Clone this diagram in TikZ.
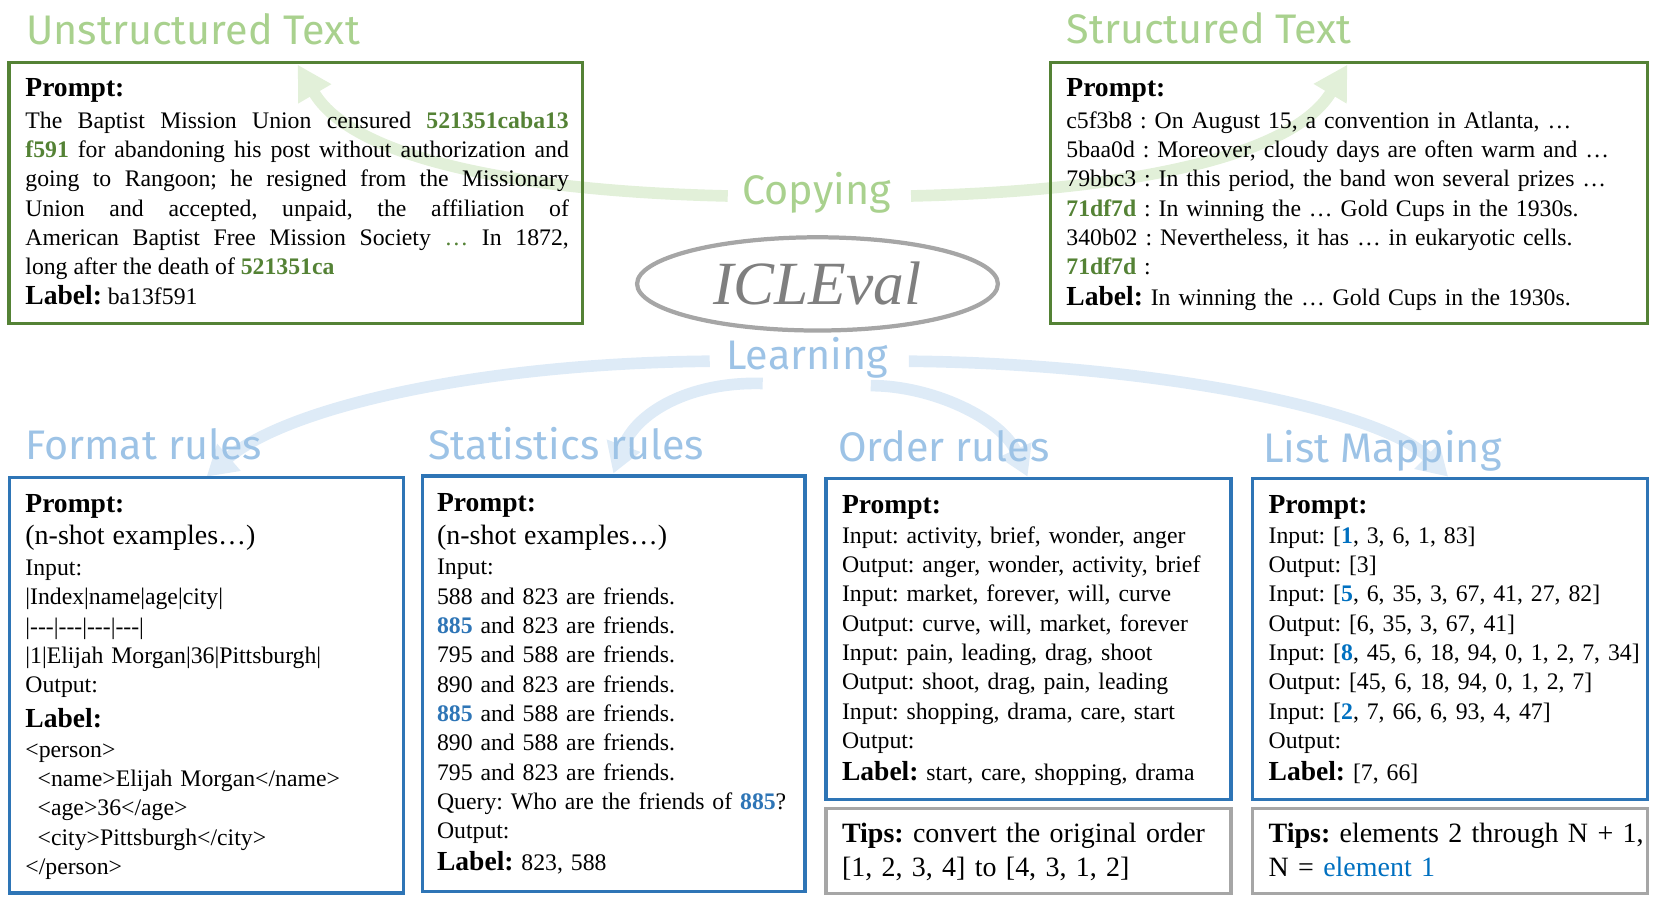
\documentclass[tikz,border=0pt]{standalone}
\usepackage{fontspec}
\setmainfont{Liberation Serif}
\newfontfamily\ttlfont{Fira Sans}
\usetikzlibrary{arrows.meta,shapes.geometric,fit}
\definecolor{gdark}{HTML}{548235}
\definecolor{glight}{HTML}{A9D18E}
\definecolor{gbandc}{HTML}{E2F0D9}
\definecolor{bdark}{HTML}{2E75B6}
\definecolor{blight}{HTML}{9DC3E6}
\definecolor{bbandc}{HTML}{DEEBF7}
\definecolor{tgray}{HTML}{A6A6A6}
\definecolor{iclgray}{HTML}{7F7F7F}
\definecolor{ebl}{HTML}{0070C0}
\newcommand\hdr[1]{{\fontsize{13}{13.85}\selectfont\bfseries #1}}
\newcommand\gid[1]{\textbf{\textcolor{gdark}{#1}}}
\newcommand\bid[1]{\textbf{\textcolor{bdark}{#1}}}
\newcommand\lid[1]{\textbf{\textcolor{ebl}{#1}}}
\newcommand\nshot{{\fontsize{13.2}{13.85}\selectfont (n-shot examples…)}}
\frenchspacing
\begin{document}
\begin{tikzpicture}[x=0.5pt,y=-0.5pt,
 gbox/.style={draw=gdark,line width=1.5pt,inner sep=0pt},
 bbox/.style={draw=bdark,line width=1.5pt,inner sep=0pt},
 tbox/.style={draw=tgray,line width=1.5pt,inner sep=0pt},
 body/.style={anchor=base west,inner sep=0pt,align=left,font=\frenchspacing\fontsize{11.2}{13.85}\selectfont},
 tipsfont/.style={font=\frenchspacing\fontsize{13.2}{16}\selectfont},
 ttl/.style={anchor=base west,inner sep=0pt,font=\ttlfont\fontsize{19.5}{20}\selectfont},
 gttl/.style={ttl,text=glight},
 bttl/.style={ttl,text=blight},
 gflow/.style={draw=gbandc,line width=5.5pt,-{Triangle[width=17pt,length=16pt]}},
 bflow/.style={draw=bbandc,line width=5.5pt,-{Triangle[width=16pt,length=14pt]}},
]
\path[use as bounding box] (0,0) rectangle (1568,851.5);

% flow coordinates
\coordinate (g1s) at (687,185);
\coordinate (g1e) at (281,61);
\coordinate (g2s) at (860,185);
\coordinate (g2e) at (1272,61);
\coordinate (b1s) at (670,341);
\coordinate (b1e) at (195,450);
\coordinate (b2s) at (720,362);
\coordinate (b2e) at (579,447);
\coordinate (b3s) at (822,364);
\coordinate (b3e) at (970,450);
\coordinate (b4s) at (858,341);
\coordinate (b4e) at (1367,450);

% flows
\draw[gflow] (g1s) .. controls (470,180) and (330,145) .. (g1e);
\draw[gflow] (g2s) .. controls (1077,180) and (1222,145) .. (g2e);
\draw[bflow] (b1s) .. controls (450,343) and (270,385) .. (b1e);
\draw[bflow] (b2s) .. controls (650,360) and (600,390) .. (b2e);
\draw[bflow] (b3s) .. controls (880,364) and (945,395) .. (b3e);
\draw[bflow] (b4s) .. controls (1080,343) and (1300,385) .. (b4e);

% boxes
\node[gbox,fit={(8.5,59) (550,305.5)}] (ut) {};
\node[gbox,fit={(992,59) (1555,305.5)}] (st) {};
\node[bbox,fit={(8.8,450.5) (380.7,843)}] (fmt) {};
\node[bbox,fit={(398.7,449.3) (760,841.7)}] (stat) {};
\node[bbox,fit={(779.7,451.8) (1162,754.5)}] (ord) {};
\node[bbox,fit={(1182.4,451.8) (1555.6,754.5)}] (lst) {};
\node[tbox,fit={(779.7,763) (1162,843.3)}] (tipo) {};
\node[tbox,fit={(1182.4,763) (1555.6,843.3)}] (tipl) {};

% centre ellipse
\node[ellipse,draw=tgray,line width=2pt,minimum width=170.3pt,minimum height=44pt,inner sep=0pt,
      text=iclgray,font=\fontsize{29}{30}\selectfont\itshape] (icl) at (771.7,268) {ICLEval};

% titles
\node[gttl] (tut) at (24.5,42) {Unstructured Text};
\node[gttl] (tst) at (1006.5,41) {Structured Text};
\node[gttl,anchor=base] (tcop) at (771,193) {Copying};
\node[bttl,anchor=base] (tlrn) at (762,349) {Learning};
\node[bttl] (tfmt) at (23.6,434) {Format rules};
\node[bttl] (tstat) at (404,434) {Statistics rules};
\node[bttl] (tord) at (791,436) {Order rules};
\node[bttl] (tlst) at (1192,437) {List Mapping};

% texts
\node[body,text width=256.5pt,align=justify] (uttx) at (23.6,91.3) {\hdr{Prompt:}\\[1pt]
The Baptist Mission Union censured \gid{521351caba13}\linebreak
\gid{f591} for abandoning his post without authorization and\linebreak
going to Rangoon; he resigned from the Missionary\linebreak
Union and accepted, unpaid, the affiliation of\linebreak
American Baptist Free Mission Society \textcolor{gdark}{…} In 1872,\linebreak
long after the death of \gid{521351ca}\\[0.3pt]
\hdr{Label:} ba13f591};

\node[body,text width=272pt] (sttx) at (1006.3,91.3) {\hdr{Prompt:}\\[1pt]
c5f3b8 : On August 15, a convention in Atlanta, …\\
5baa0d : Moreover, cloudy days are often warm and …\\
79bbc3 : In this period, the band won several prizes …\\
\gid{71df7d} : In winning the … Gold Cups in the 1930s.\\
340b02 : Nevertheless, it has … in eukaryotic cells.\\
\gid{71df7d} :\\[0.8pt]
\hdr{Label:} In winning the … Gold Cups in the 1930s.};

\node[body,text width=180pt] (fmtx) at (23.6,484) {\hdr{Prompt:}\\[1.1pt]
\nshot\\[0.85pt]
Input:\\
|Index|name|age|city|\\
|-{}-{}-|-{}-{}-|-{}-{}-|-{}-{}-|\\
|1|Elijah Morgan|36|Pittsburgh|\\
Output:\\[2.35pt]
\hdr{Label:}\\[0.35pt]
<person>\\
\hspace*{5.8pt}<name>Elijah Morgan</name>\\
\hspace*{5.8pt}<age>36</age>\\
\hspace*{5.8pt}<city>Pittsburgh</city>\\
</person>};

\node[body,text width=185pt] (statx) at (412.2,482.4) {\hdr{Prompt:}\\[2.1pt]
\nshot\\[0.25pt]
Input:\\
588 and 823 are friends.\\
\bid{885} and 823 are friends.\\
795 and 588 are friends.\\
890 and 823 are friends.\\
\bid{885} and 588 are friends.\\
890 and 588 are friends.\\
795 and 823 are friends.\\
Query: Who are the friends of \bid{885}?\\
Output:\\[1.3pt]
\hdr{Label:} 823, 588};

\node[body,text width=185pt] (ordx) at (794.5,484.5) {\hdr{Prompt:}\\[0.3pt]
Input: activity, brief, wonder, anger\\
Output: anger, wonder, activity, brief\\
Input: market, forever, will, curve\\
Output: curve, will, market, forever\\
Input: pain, leading, drag, shoot\\
Output: shoot, drag, pain, leading\\
Input: shopping, drama, care, start\\
Output:\\[1.1pt]
\hdr{Label:} start, care, shopping, drama};

\node[body,text width=185pt] (lstx) at (1197.2,484.5) {\hdr{Prompt:}\\[0.3pt]
Input: [\lid{1}, 3, 6, 1, 83]\\
Output: [3]\\
Input: [\lid{5}, 6, 35, 3, 67, 41, 27, 82]\\
Output: [6, 35, 3, 67, 41]\\
Input: [\lid{8}, 45, 6, 18, 94, 0, 1, 2, 7, 34]\\
Output: [45, 6, 18, 94, 0, 1, 2, 7]\\
Input: [\lid{2}, 7, 66, 6, 93, 4, 47]\\
Output:\\[1.1pt]
\hdr{Label:} [7, 66]};

\node[body,tipsfont,text width=185pt] (tipox) at (794.5,795.4) {\textbf{Tips:} convert the original order\\{}[1, 2, 3, 4] to [4, 3, 1, 2]};
\node[body,tipsfont,text width=185pt] (tiplx) at (1197.2,795.4) {\textbf{Tips:} elements 2 through N + 1,\\N = \textcolor{ebl}{element 1}};
\end{tikzpicture}
\end{document}
